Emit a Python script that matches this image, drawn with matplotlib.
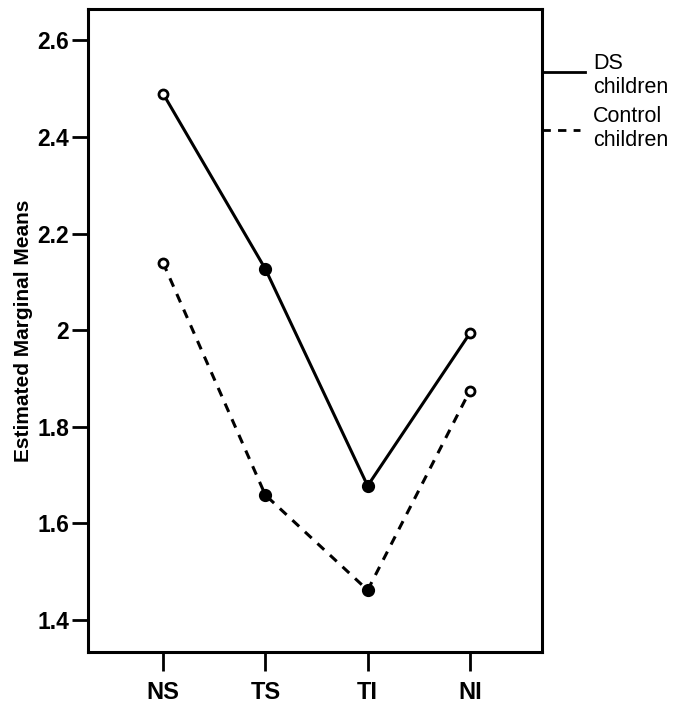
import matplotlib
matplotlib.use("Agg")
import matplotlib.pyplot as plt
from matplotlib.lines import Line2D

categories = ["NS", "TS", "TI", "NI"]
ds_children = [2.49, 2.127, 1.678, 1.994]
control_children = [2.140, 1.659, 1.462, 1.875]
ds_filled = [False, True, True, False]
control_filled = [False, True, True, False]
yticks = [1.4, 1.6, 1.8, 2.0, 2.2, 2.4, 2.6]
ytick_labels = ["1.4", "1.6", "1.8", "2", "2.2", "2.4", "2.6"]
series_names = ["DS\nchildren", "Control\nchildren"]

plt.rcParams['font.family'] = ['Liberation Sans', 'DejaVu Sans']

fig = plt.figure(figsize=(6.82, 7.09), dpi=100)
ax = fig.add_axes([88/682, 1-652/709, (542-88)/682, (652-9)/709])

x = list(range(len(categories)))
ax.plot(x, ds_children, color='black', lw=2.2, solid_capstyle='round', zorder=2)
ax.plot(x, control_children, color='black', lw=2.2, linestyle=(0, (3, 2.6)), zorder=2)
for vals, filled in ((ds_children, ds_filled), (control_children, control_filled)):
    for xi, v, f in zip(x, vals, filled):
        ax.plot([xi], [v], marker='o', ms=7.5 if f else 6.5, mew=2,
                mfc='black' if f else 'white', mec='black', zorder=3)

ax.set_xlim(-0.733, 3.704)
ax.set_ylim(1.334, 2.665)
ax.set_xticks(x)
ax.set_xticklabels(categories, fontsize=17, fontweight='bold')
ax.set_yticks(yticks)
ax.set_yticklabels(ytick_labels, fontsize=16.5, fontweight='bold')
ax.tick_params(axis='x', length=14, width=2, pad=7)
ax.tick_params(axis='y', length=11.5, width=2, pad=2)
for s in ax.spines.values():
    s.set_linewidth(2.2)
ax.set_ylabel("Estimated Marginal Means", fontsize=15, fontweight='bold')
ax.yaxis.set_label_coords(-0.122, 0.5)

# legend drawn outside the right spine
def ax_y(py):
    return 1 - (py - 9) / (652 - 9)
x0 = 1.0
x1 = (585 - 88) / 454
ax.add_line(Line2D([x0, x1], [ax_y(72)] * 2, transform=ax.transAxes,
                   color='black', lw=2, clip_on=False))
ax.add_line(Line2D([x0, (580 - 88) / 454], [ax_y(130)] * 2, transform=ax.transAxes,
                   color='black', lw=2, linestyle=(0, (3, 2.6)), clip_on=False))
tx = (593 - 88) / 454
ax.text(tx, ax_y(53), series_names[0], transform=ax.transAxes, fontsize=15.5,
        va='top', ha='left', linespacing=1.2)
ax.text(tx, ax_y(106), series_names[1], transform=ax.transAxes, fontsize=15.5,
        va='top', ha='left', linespacing=1.2)

fig.savefig("out.png", dpi=100)
